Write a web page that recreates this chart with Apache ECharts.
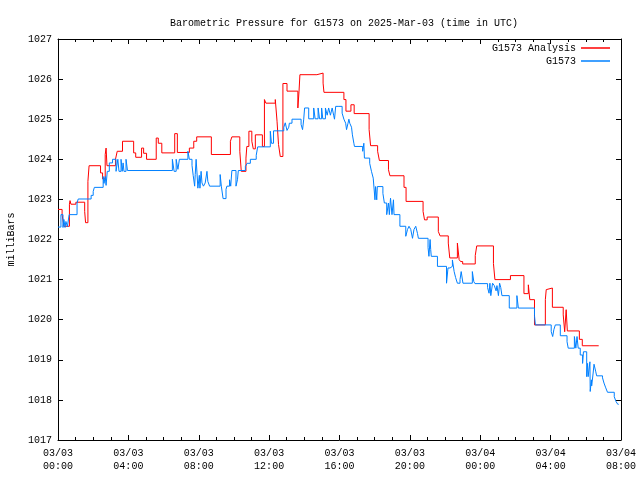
<!DOCTYPE html>
<html>
<head>
<meta charset="utf-8">
<script src="https://cdn.jsdelivr.net/npm/echarts@6/dist/echarts.min.js"></script>
<style>html,body{margin:0;padding:0;background:#fff}#c{width:640px;height:480px}</style>
</head>
<body>
<div id="c"></div>
<script>
// time in minutes since 2025-03-03 00:00 UTC
var titleText = 'Barometric Pressure for G1573 on 2025-Mar-03 (time in UTC)';
var seriesNames = ['G1573 Analysis', 'G1573'];
var yTicks = [1017, 1018, 1019, 1020, 1021, 1022, 1023, 1024, 1025, 1026, 1027];
var xTickMinutes = [0, 240, 480, 720, 960, 1200, 1440, 1680, 1920];

var redTime = [0,14,20,39,41,44,61,91,94,102,106,145,152,161,164,167,196,202,220,258,265,285,292,302,335,342,354,398,407,448,463,473,523,588,593,620,625,641,644,651,661,666,673,697,704,709,741,747,752,758,767,781,818,822,825,883,904,907,975,982,999,1010,1061,1066,1090,1096,1127,1132,1180,1187,1245,1250,1259,1297,1303,1331,1336,1362,1368,1373,1380,1423,1428,1485,1490,1543,1589,1604,1609,1625,1662,1665,1669,1686,1723,1728,1733,1737,1778,1788,1844];
var redValue = [1022.75,1022.62,1022.33,1022.88,1022.97,1022.88,1022.93,1022.7,1022.42,1023.45,1023.84,1023.66,1023.51,1024.12,1024.28,1023.84,1024.0,1024.2,1024.45,1024.16,1024.05,1024.28,1024.15,1024.0,1024.53,1024.4,1024.16,1024.64,1024.17,1024.28,1024.45,1024.56,1024.12,1024.45,1024.56,1024.2,1023.7,1024.03,1024.32,1024.7,1024.45,1024.26,1024.61,1024.32,1025.49,1025.4,1025.49,1024.95,1024.37,1024.07,1025.89,1025.7,1025.28,1025.7,1026.11,1026.15,1025.9,1025.67,1025.49,1025.2,1025.36,1025.14,1024.74,1024.34,1024.2,1023.97,1023.74,1023.59,1023.3,1022.95,1022.7,1022.49,1022.56,1022.2,1022.09,1021.91,1021.54,1021.91,1021.5,1021.45,1021.39,1021.6,1021.84,1021.4,1021.0,1021.1,1020.65,1020.87,1020.5,1019.87,1020.5,1020.75,1020.79,1020.31,1020.12,1019.7,1020.25,1019.72,1019.51,1019.35,1019.35];

var blueTime = [0,10,17,20,24,27,32,38,65,69,113,120,124,154,157,161,164,168,175,186,198,204,208,215,219,222,225,232,237,390,396,403,409,414,443,448,457,461,466,468,471,474,477,482,484,488,491,496,502,508,511,517,553,557,563,573,576,585,589,593,607,612,615,639,645,656,676,681,724,728,735,770,775,781,787,789,798,829,834,838,841,855,872,877,887,892,899,903,912,918,923,929,935,940,943,947,958,969,975,981,984,989,992,995,1001,1004,1009,1011,1039,1043,1045,1063,1069,1075,1081,1083,1087,1089,1108,1113,1121,1127,1130,1134,1139,1144,1146,1166,1186,1192,1197,1203,1209,1214,1220,1226,1229,1262,1265,1269,1271,1273,1294,1325,1330,1337,1345,1351,1356,1362,1371,1375,1381,1413,1418,1422,1465,1470,1473,1476,1482,1488,1494,1497,1502,1506,1510,1514,1539,1565,1570,1625,1628,1682,1687,1691,1696,1713,1736,1740,1761,1766,1770,1774,1781,1789,1792,1803,1806,1808,1814,1815,1819,1820,1825,1828,1834,1837,1857,1862,1868,1874,1897,1903,1909,1912];
var blueValue = [1022.31,1022.62,1022.3,1022.5,1022.3,1022.45,1022.32,1022.62,1022.91,1023.01,1023.1,1023.2,1023.3,1023.57,1023.4,1023.57,1023.35,1023.7,1023.91,1024.0,1023.7,1024.0,1023.7,1024.0,1023.7,1023.91,1023.7,1024.0,1023.72,1024.0,1023.7,1024.0,1023.75,1024.0,1024.2,1024.0,1023.85,1023.6,1023.33,1023.62,1024.0,1023.66,1023.28,1023.6,1023.28,1023.7,1023.41,1023.33,1023.41,1023.7,1023.45,1023.33,1023.62,1023.33,1023.02,1023.25,1023.33,1023.49,1023.33,1023.72,1023.33,1023.49,1023.72,1023.82,1023.9,1024.0,1024.1,1024.31,1024.7,1024.4,1024.71,1024.8,1024.91,1024.72,1024.8,1024.9,1025.0,1024.87,1024.74,1025.0,1025.28,1025.01,1025.28,1025.01,1025.28,1025.01,1025.28,1025.01,1025.28,1025.1,1025.28,1025.1,1025.28,1025.1,1025.0,1025.32,1025.32,1025.15,1025.0,1024.9,1024.74,1024.9,1025.0,1024.9,1024.8,1024.61,1024.4,1024.32,1024.2,1024.4,1024.03,1023.9,1023.7,1023.53,1022.99,1023.32,1022.99,1023.32,1023.15,1022.91,1022.62,1022.91,1022.62,1023.03,1022.62,1022.99,1022.62,1022.33,1022.08,1022.25,1022.33,1022.25,1022.03,1022.25,1022.33,1022.15,1022.03,1021.8,1021.58,1022.0,1021.75,1021.58,1021.33,1020.91,1021.29,1021.33,1021.49,1021.2,1021.05,1020.91,1021.0,1021.2,1020.91,1021.2,1020.95,1020.9,1020.8,1020.66,1020.91,1020.6,1020.91,1020.85,1020.72,1020.85,1020.6,1020.91,1020.8,1020.6,1020.29,1020.6,1020.29,1020.1,1019.87,1019.7,1019.58,1019.75,1019.87,1019.6,1019.45,1019.29,1019.58,1019.29,1019.58,1019.29,1019.12,1018.91,1019.2,1018.58,1018.91,1018.58,1018.95,1018.21,1018.5,1018.35,1018.67,1018.89,1018.7,1018.6,1018.55,1018.42,1018.3,1018.19,1018.08,1017.96,1017.89,1017.89];

function pairs(t, v) { return t.map(function (x, i) { return [x, v[i]]; }); }
function pad(n) { return (n < 10 ? '0' : '') + n; }
function xLabel(m) {
  var day = 3 + Math.floor(m / 1440);
  var hh = Math.floor((m % 1440) / 60);
  return '03/' + pad(day) + '\n' + pad(hh) + ':00';
}

var FONT = 'Liberation Mono';
var chart = echarts.init(document.getElementById('c'), null, { renderer: 'canvas' });
var axisCommon = {
  axisLine: { show: true, onZero: false, lineStyle: { color: '#000', width: 1 } },
  splitLine: { show: false }
};
chart.setOption({
  animation: false,
  backgroundColor: '#fff',
  title: {
    text: titleText, left: 339, top: 13, textAlign: 'center',
    textStyle: { fontFamily: FONT, fontSize: 10, fontWeight: 'normal', color: '#000' }
  },
  legend: [
    { data: [seriesNames[0]], orient: 'vertical', align: 'right', right: 30, top: 43, itemWidth: 29, itemHeight: 1.5, icon: 'rect',
      textStyle: { fontFamily: FONT, fontSize: 10, color: '#000' }, padding: 0 },
    { data: [seriesNames[1]], orient: 'vertical', align: 'right', right: 30, top: 56, itemWidth: 29, itemHeight: 1.5, icon: 'rect',
      textStyle: { fontFamily: FONT, fontSize: 10, color: '#000' }, padding: 0 }
  ],
  grid: { left: 58, right: 19, top: 39, bottom: 40, containLabel: false, outerBoundsMode: 'none' },
  xAxis: [
    Object.assign({}, axisCommon, {
      type: 'value', min: xTickMinutes[0], max: xTickMinutes[xTickMinutes.length - 1], interval: 240, position: 'bottom',
      axisTick: { show: true, inside: true, length: 5, lineStyle: { color: '#000' } },
      minorTick: { show: true, splitNumber: 4, length: 3, lineStyle: { color: '#000' } },
      axisLabel: { show: true, margin: 7, formatter: xLabel, fontFamily: FONT, fontSize: 10, color: '#000', lineHeight: 13 }
    }),
    Object.assign({}, axisCommon, {
      type: 'value', min: xTickMinutes[0], max: xTickMinutes[xTickMinutes.length - 1], interval: 240, position: 'top',
      axisTick: { show: true, inside: true, length: 5, lineStyle: { color: '#000' } },
      minorTick: { show: true, splitNumber: 4, length: 3, lineStyle: { color: '#000' } },
      axisLabel: { show: false }
    })
  ],
  yAxis: [
    Object.assign({}, axisCommon, {
      type: 'value', min: yTicks[0], max: yTicks[yTicks.length - 1], interval: 1, position: 'left',
      name: 'milliBars', nameLocation: 'middle', nameGap: 42, nameRotate: 90,
      nameTextStyle: { fontFamily: FONT, fontSize: 10, color: '#000' },
      axisTick: { show: true, inside: true, length: 5, lineStyle: { color: '#000' } },
      axisLabel: { show: true, margin: 6, formatter: function (v) { return String(v); }, fontFamily: FONT, fontSize: 10, color: '#000' }
    }),
    Object.assign({}, axisCommon, {
      type: 'value', min: yTicks[0], max: yTicks[yTicks.length - 1], interval: 1, position: 'right',
      axisTick: { show: true, inside: true, length: 5, lineStyle: { color: '#000' } },
      axisLabel: { show: false }
    })
  ],
  series: [
    { name: seriesNames[0], type: 'line', step: 'end', showSymbol: false, symbol: 'none',
      data: pairs(redTime, redValue), color: '#ff0000', lineStyle: { width: 1, color: '#ff0000' } },
    { name: seriesNames[1], type: 'line', step: 'end', showSymbol: false, symbol: 'none',
      data: pairs(blueTime, blueValue), color: '#0080ff', lineStyle: { width: 1, color: '#0080ff' } }
  ]
});
</script>
</body>
</html>
